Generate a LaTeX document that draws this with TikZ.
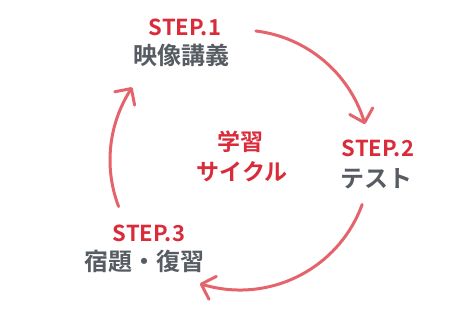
\documentclass[tikz,border=0pt]{standalone}
\usepackage{fontspec}
\setmainfont{Noto Sans CJK JP}
\newfontfamily\jpb{Noto Sans CJK JP Bold}
\usetikzlibrary{arrows.meta,bending,calc}
\definecolor{stepred}{HTML}{D92B3A}
\definecolor{arcred}{HTML}{E5646C}
\definecolor{txtgray}{HTML}{565C62}
\tikzset{
  steplabel/.style={anchor=base, inner sep=0pt, text=stepred, font=\jpb\fontsize{22}{22}\selectfont},
  stepname/.style={anchor=base, inner sep=0pt, text=txtgray, font=\jpb\fontsize{24}{24}\selectfont},
  centerlabel/.style={anchor=base, inner sep=0pt, text=stepred, font=\jpb\fontsize{23}{23}\selectfont},
  cyclearc/.style={draw=arcred, line width=3pt, line cap=round,
    -{Straight Barb[length=12pt, width=24pt, line width=3pt, round]}}
}
\begin{document}
\begin{tikzpicture}[x=1pt,y=1pt]
\useasboundingbox (0,0) rectangle (474,311);
\node[steplabel] (s1) at (185,275) {STEP.1};
\node[stepname] (n1) at (181,246) {映像講義};
\node[steplabel] (s2) at (378,154) {STEP.2};
\node[stepname] (n2) at (376,124) {テスト};
\node[steplabel] (s3) at (149,70) {STEP.3};
\node[stepname] (n3) at (144,41) {宿題・復習};
\node[centerlabel] (c1) at (240,160) {学習};
\node[centerlabel] (c2) at (242,130) {サイクル};
\coordinate (ctr) at (240,151);
\coordinate (a1) at ($(ctr)+(83:130)$);
\coordinate (a2) at ($(ctr)+(-20:130)$);
\coordinate (a3) at ($(ctr)+(201:130)$);
\draw[cyclearc] (a1) arc[start angle=83, end angle=16, radius=130];
\draw[cyclearc] (a2) arc[start angle=-20, end angle=-108, radius=130];
\draw[cyclearc] (a3) arc[start angle=201, end angle=146, radius=130];
\end{tikzpicture}
\end{document}
